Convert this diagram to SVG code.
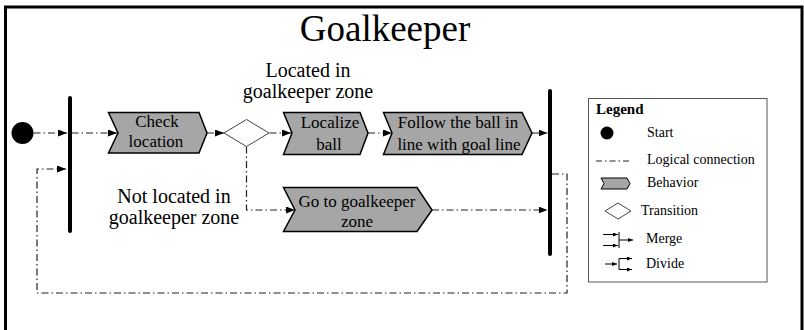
<svg xmlns="http://www.w3.org/2000/svg" width="804" height="330" viewBox="0 0 804 330">
<style>
text{font-family:"Liberation Serif","Tinos","Noto Serif","DejaVu Serif",serif;fill:#000}
.lbl{font-size:17px;text-anchor:middle}
.cond{font-size:20px;text-anchor:middle}
.leg{font-size:14px}
.beh{fill:#a6a6a6;stroke:#000;stroke-width:1.5;stroke-linejoin:miter}
.dia{fill:#fff;stroke:#444;stroke-width:1}
.bar{stroke:#000;stroke-width:4;stroke-linecap:round}
.conn{fill:none;stroke:#222;stroke-width:1.2;stroke-dasharray:7 3 1.5 3}
.small{fill:none;stroke:#000;stroke-width:1}
</style>
<defs>
<marker id="arr" markerUnits="userSpaceOnUse" markerWidth="9" markerHeight="7" refX="9" refY="3.5" orient="auto">
<path d="M0,0 L9,3.5 L0,7 z" fill="#000"/>
</marker>
<marker id="sarr" markerUnits="userSpaceOnUse" markerWidth="5" markerHeight="4" refX="5" refY="2" orient="auto">
<path d="M0,0 L5,2 L0,4 z" fill="#000"/>
</marker>
</defs>
<rect x="0" y="0" width="804" height="330" fill="#fff"/>
<path d="M5.5,340 V7 H802 V340" fill="none" stroke="#000" stroke-width="3"/>
<text x="385" y="41" font-size="37" text-anchor="middle">Goalkeeper</text>

<g id="connectors">
<path class="conn" d="M33.5,133 H67" marker-end="url(#arr)"/>
<path class="conn" d="M71.5,133 H117" marker-end="url(#arr)"/>
<path class="conn" d="M207,133 H224" marker-end="url(#arr)"/>
<path class="conn" d="M269.5,133 H291" marker-end="url(#arr)"/>
<path class="conn" d="M368,133 H392" marker-end="url(#arr)"/>
<path class="conn" d="M532,133 H547.5" marker-end="url(#arr)"/>
<path class="conn" d="M246.5,146.5 V210 H295" marker-end="url(#arr)"/>
<path class="conn" d="M432,210 H547.5" marker-end="url(#arr)"/>
<path class="conn" d="M552,174 H567 V293 H37 V169 H66" stroke="#555" marker-end="url(#arr)"/>
</g>

<g id="start"><circle cx="22.5" cy="133" r="11" fill="#000"/></g>
<g id="merge-left"><line class="bar" x1="70" y1="98" x2="70" y2="231"/></g>
<g id="merge-right"><line class="bar" x1="550" y1="91" x2="550" y2="254"/></g>

<g id="check-location">
<path class="beh" d="M108.5,112.5 H199 L207,133 L199,153 H108.5 L118,133 Z"/>
<text class="lbl" x="157" y="127">Check</text>
<text class="lbl" x="156" y="147">location</text>
</g>

<g id="transition">
<path class="dia" d="M224,133 L246.5,119.5 L269,133 L246.5,146.5 Z"/>
</g>

<g id="cond-located">
<text class="cond" x="308" y="77">Located in</text>
<text class="cond" x="308" y="98">goalkeeper zone</text>
</g>
<g id="cond-not-located">
<text class="cond" x="174" y="203">Not located in</text>
<text class="cond" x="174" y="224">goalkeeper zone</text>
</g>

<g id="localize-ball">
<path class="beh" d="M283.5,112.5 H360 L368,133 L360,154.5 H283.5 L292,133 Z"/>
<text class="lbl" x="330" y="128">Localize</text>
<text class="lbl" x="329" y="150">ball</text>
</g>

<g id="follow-ball">
<path class="beh" d="M383.5,112.5 H522 L532,133 L522,154.5 H383.5 L392,133 Z"/>
<text class="lbl" x="458" y="128">Follow the ball in</text>
<text class="lbl" x="459" y="150">line with goal line</text>
</g>

<g id="go-to-zone">
<path class="beh" d="M283.5,187.5 H417 L432,210 L417,231.5 H283.5 L295,210 Z"/>
<text class="lbl" x="357" y="207">Go to goalkeeper</text>
<text class="lbl" x="357" y="227">zone</text>
</g>

<g id="legend">
<rect x="588.5" y="98.5" width="178.5" height="183.5" fill="#fff" stroke="#555" stroke-width="1"/>
<text x="596" y="114" font-size="15" font-weight="bold">Legend</text>
<circle cx="607" cy="133" r="6.5" fill="#000"/>
<text class="leg" x="647" y="137">Start</text>
<line x1="596" y1="161" x2="631" y2="161" stroke="#222" stroke-width="1" stroke-dasharray="6 3 1.5 3"/>
<text class="leg" x="647" y="164">Logical connection</text>
<path d="M601,178 H627 L630,183.5 L627,189 H601 L604,183.5 Z" fill="#a6a6a6" stroke="#000" stroke-width="1"/>
<text class="leg" x="647" y="187">Behavior</text>
<path d="M605,211 L618,203 L631,211 L618,219 Z" fill="#fff" stroke="#444" stroke-width="1"/>
<text class="leg" x="641" y="215">Transition</text>
<line class="small" x1="603" y1="234.5" x2="618" y2="234.5" marker-end="url(#sarr)"/>
<line class="small" x1="603" y1="245.5" x2="618" y2="245.5" marker-end="url(#sarr)"/>
<line class="small" x1="619" y1="232" x2="619" y2="248"/>
<line class="small" x1="619" y1="240" x2="633" y2="240" marker-end="url(#sarr)"/>
<text class="leg" x="646" y="243">Merge</text>
<line class="small" x1="605" y1="264" x2="617" y2="264" marker-end="url(#sarr)"/>
<line class="small" x1="619" y1="258.5" x2="619" y2="269.5"/>
<line class="small" x1="619" y1="258.5" x2="632" y2="258.5" marker-end="url(#sarr)"/>
<line class="small" x1="619" y1="269.5" x2="632" y2="269.5" marker-end="url(#sarr)"/>
<text class="leg" x="646" y="268">Divide</text>
</g>
</svg>
